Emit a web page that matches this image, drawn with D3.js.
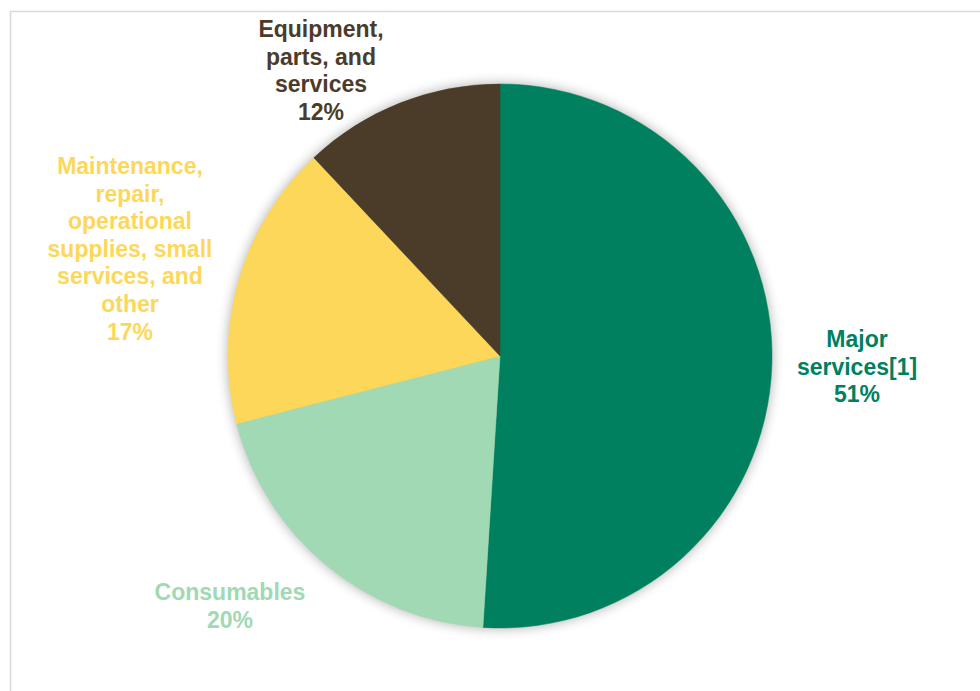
<!DOCTYPE html>
<html>
<head>
<meta charset="utf-8">
<script src="https://cdn.jsdelivr.net/npm/d3@7"></script>
<style>
  body { margin: 0; background: #fff; }
  svg { display: block; }
  text { font-family: "Liberation Sans", Arial, sans-serif; font-weight: bold; }
</style>
</head>
<body>
<svg id="chart"></svg>
<script>
// data
var categories = ["Major services[1]", "Consumables", "Maintenance, repair, operational supplies, small services, and other", "Equipment, parts, and services"];
var shares = [51, 20, 17, 12];
var colors = ["#00805f", "#a0d9b3", "#fdd75a", "#4b3c2a"];
var labelLines = [
    ["Major", "services[1]", "51%"],
    ["Consumables", "20%"],
    ["Maintenance,", "repair,", "operational", "supplies, small", "services, and", "other", "17%"],
    ["Equipment,", "parts, and", "services", "12%"]
];
// where each label block sits (center x, first baseline y)
var labelPos = [[857, 347], [230, 600], [130, 174], [321, 37]];

var svg = d3.select("#chart")
    .attr("width", 980)
    .attr("height", 691);

var cx = 500, cy = 356, radius = 272;

// frame of the chart area
svg.append("rect")
    .attr("x", 10.5).attr("y", 11.5)
    .attr("width", 1000).attr("height", 720)
    .attr("fill", "none")
    .attr("stroke", "#d9d9d9")
    .attr("stroke-width", 1.5);

var defs = svg.append("defs");
var f = defs.append("filter").attr("id", "glow")
    .attr("x", "-20%").attr("y", "-20%").attr("width", "140%").attr("height", "140%");
f.append("feGaussianBlur").attr("stdDeviation", 6);

var g = svg.append("g")
    .attr("transform", "translate(" + cx + "," + cy + ")");

// soft shadow around the pie
g.append("circle")
    .attr("r", radius + 1)
    .attr("fill", "#000")
    .attr("opacity", 0.28)
    .attr("filter", "url(#glow)");

var pie = d3.pie().sort(null).value(function(d) { return d; });
var arc = d3.arc().innerRadius(0).outerRadius(radius);

g.selectAll(".slice")
  .data(pie(shares))
  .enter().append("path")
    .attr("class", "slice")
    .attr("d", arc)
    .attr("fill", function(d, i) { return colors[i]; })
    .attr("stroke", function(d, i) { return colors[i]; })
    .attr("stroke-width", 0.5);

var labels = svg.selectAll(".label")
  .data(labelLines)
  .enter().append("text")
    .attr("class", "label")
    .attr("text-anchor", "middle")
    .attr("font-size", 23)
    .attr("fill", function(d, i) { return colors[i]; });

labels.each(function(lines, i) {
    var t = d3.select(this);
    lines.forEach(function(line, j) {
        t.append("tspan")
            .attr("x", labelPos[i][0])
            .attr("y", labelPos[i][1] + j * 27.6)
            .text(line);
    });
});
</script>
</body>
</html>
